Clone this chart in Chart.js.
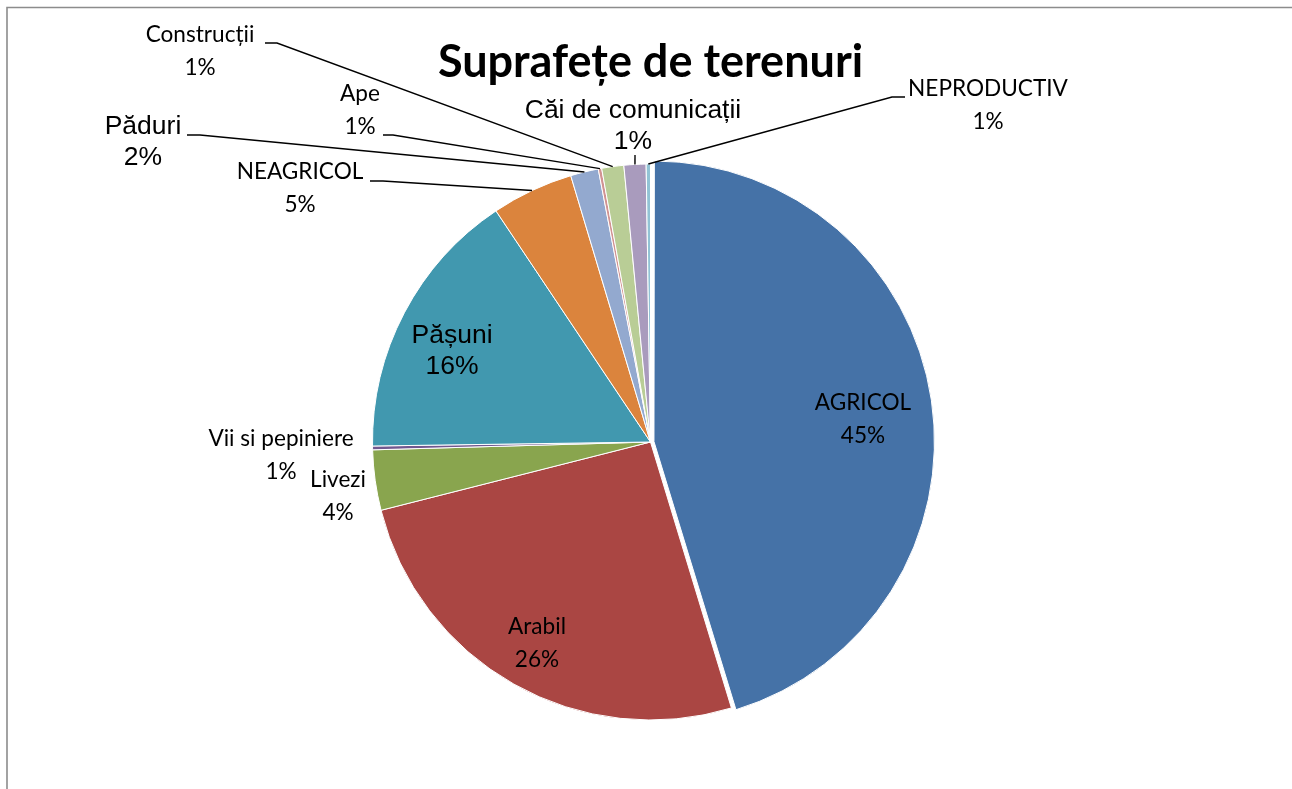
<!DOCTYPE html>
<html>
<head>
<meta charset="utf-8">
<title>Suprafețe de terenuri</title>
<script src="https://cdn.jsdelivr.net/npm/chart.js@4.4.0/dist/chart.umd.min.js"></script>
<style>
  html, body { margin: 0; padding: 0; background: #fff; }
  #wrap { position: relative; width: 1292px; height: 789px; }
</style>
</head>
<body>
<div id="wrap"><canvas id="pieChart"></canvas></div>
<script>
/*---- date ----- */

var categorii = ['AGRICOL', 'Arabil', 'Livezi', 'Vii si pepiniere', 'Pășuni', 'NEAGRICOL',
                 'Păduri', 'Ape', 'Construcții', 'Căi de comunicații', 'NEPRODUCTIV'];
var suprafete = [45.3, 25.75, 3.5, 0.22, 15.85, 4.75, 1.62, 0.2, 1.28, 1.28, 0.25];
var procente  = ['45%', '26%', '4%', '1%', '16%', '5%', '2%', '1%', '1%', '1%', '1%'];
var culori    = ['#4572A7', '#AA4643', '#89A54E', '#71588F', '#4198AF', '#DB843D',
                 '#93A9CF', '#D19392', '#B9CD96', '#A99BBD', '#92C3D5'];

/*---- etichete (pozitie fata de centrul placintei) ----- */

var fontCalibri = { family: 'Lato', size: 22.6, lh: 33 };
var fontArial   = { family: '"Liberation Sans", Arial', size: 26.5, lh: 31 };

var etichete = [
  { dx: 212.5,  dy: -22.5, f: fontCalibri },
  { dx: -113.5, dy: 201,   f: fontCalibri },
  { dx: -312.5, dy: 54.5,  f: fontCalibri },
  { dx: -369.5, dy: 13,    f: fontCalibri },
  { dx: -198.5, dy: -90.5, f: fontArial },
  { dx: -350.5, dy: -254,  f: fontCalibri, linie: [[-280.5, -261], [-267.5, -261]] },
  { dx: -507.5, dy: -300,  f: fontArial,   linie: [[-463.5, -307], [-450.5, -307]] },
  { dx: -290.5, dy: -331.5, f: fontCalibri, linie: [[-267.5, -307], [-257.5, -307]] },
  { dx: -450.5, dy: -391,  f: fontCalibri, linie: [[-385.5, -399], [-373.5, -399]] },
  { dx: -17.5,  dy: -315.5, f: fontArial,  linie: [[-15.5, -287]] },
  { dx: 337.5,  dy: -337,  f: fontCalibri, linie: [[254.5, -345], [241.5, -345]] }
];

/*---- rama gri ----- */
var rama = {
  id: 'rama',
  beforeDraw: function (chart) {
    var c = chart.ctx;
    c.save();
    c.strokeStyle = '#8c8c8c';
    c.lineWidth = 1.6;
    c.beginPath();
    c.moveTo(7, chart.height);
    c.lineTo(7, 7.5);
    c.lineTo(chart.width, 7.5);
    c.stroke();
    c.restore();
  }
};

/*---- etichete + linii ----- */
var etichetePlugin = {
  id: 'etichete',
  afterDatasetsDraw: function (chart) {
    var c = chart.ctx;
    var arcs = chart.getDatasetMeta(0).data;
    c.save();
    arcs.forEach(function (arc, i) {
      var e = etichete[i];
      var p = arc.getProps(['x', 'y', 'startAngle', 'endAngle', 'outerRadius'], true);
      var cx = p.x, cy = p.y;
      if (e.linie) {
        var mid = (p.startAngle + p.endAngle) / 2;
        c.strokeStyle = '#000';
        c.lineWidth = 1.4;
        c.beginPath();
        c.moveTo(cx + e.linie[0][0], cy + e.linie[0][1]);
        for (var k = 1; k < e.linie.length; k++) {
          c.lineTo(cx + e.linie[k][0], cy + e.linie[k][1]);
        }
        c.lineTo(cx + Math.cos(mid) * p.outerRadius, cy + Math.sin(mid) * p.outerRadius);
        c.stroke();
      }
      c.fillStyle = '#000';
      c.textAlign = 'center';
      c.textBaseline = 'middle';
      c.font = e.f.size + 'px ' + e.f.family;
      c.fillText(categorii[i], cx + e.dx, cy + e.dy - e.f.lh / 2);
      c.fillText(procente[i], cx + e.dx, cy + e.dy + e.f.lh / 2);
    });
    c.restore();
  }
};

var ctx = document.getElementById('pieChart').getContext('2d');
var pieChart = new Chart(ctx, {
  type: 'pie',
  data: {
    labels: categorii,
    datasets: [{
      data: suprafete,
      backgroundColor: culori,
      borderColor: '#fff',
      borderWidth: 1,
      offset: [14, 0, 0, 0, 0, 0, 0, 0, 0, 0, 0],
      radius: 278
    }]
  },
  options: {
    responsive: true,
    maintainAspectRatio: false,
    animation: false,
    layout: { padding: { top: 35, left: 9, right: 0, bottom: 0 } },
    plugins: {
      legend: { display: false },
      tooltip: { enabled: false },
      title: {
        display: true,
        text: 'Suprafețe de terenuri',
        color: '#000',
        font: { family: 'Lato', size: 45, weight: 'bold', lineHeight: 1.2 },
        padding: { top: 0, bottom: 6 }
      }
    }
  },
  plugins: [rama, etichetePlugin]
});
</script>
</body>
</html>
